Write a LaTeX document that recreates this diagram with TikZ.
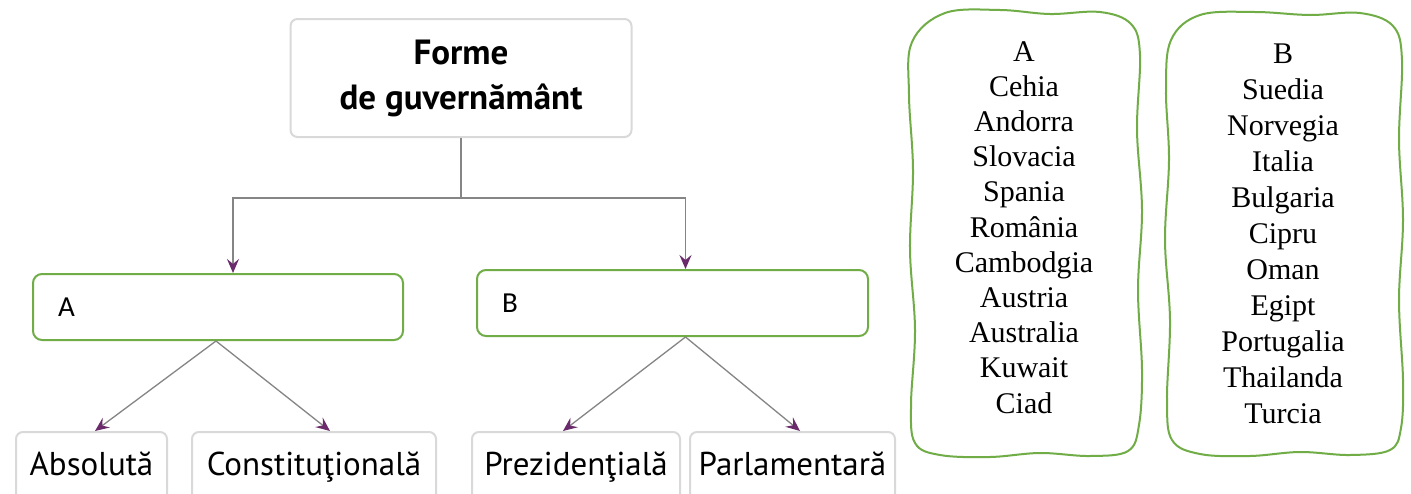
\documentclass[tikz,border=0pt]{standalone}
\usepackage{fontspec}
\setmainfont{Liberation Serif}
\newfontfamily\booksans{PT Sans}
\newfontfamily\boxsans{Carlito}
\usetikzlibrary{arrows.meta}
\definecolor{leafgreen}{HTML}{70AD47}
\definecolor{linegray}{HTML}{858585}
\definecolor{tipviolet}{HTML}{6B2A6B}
\definecolor{boxgray}{HTML}{D9D9D9}
\tikzset{
  % Set arrowhead
  >={Stealth[length=14pt, width=12pt, inset=5pt, color=tipviolet]},
  % Connector
  link/.style={draw=linegray, line width=1.6pt},
  % Textbook box
  tbox/.style={draw=boxgray, line width=2pt, rounded corners=7pt, fill=white,
    font=\booksans\fontsize{33}{40}\selectfont},
  % Green box
  gbox/.style={draw=leafgreen, line width=2pt, rounded corners=9pt, fill=white,
    minimum height=66pt, align=left, inner xsep=25pt,
    font=\boxsans\fontsize{29}{32}\selectfont},
  % Wavy list frame
  wavy/.style={draw=leafgreen, line width=2pt, smooth cycle, tension=0.6},
  % Country name
  country/.style={anchor=base, inner sep=0pt, font=\fontsize{30}{36}\selectfont},
}

\begin{document}
\begin{tikzpicture}[x=1pt, y=-1pt]
  \clip (0,0) rectangle (1411,493);
  \fill[white] (0,0) rectangle (1411,493);

  % Tree of the forms
  \node[tbox, font=\booksans\bfseries\fontsize{35}{45}\selectfont, align=center,
    minimum width=341pt, minimum height=118pt] (forms) at (461,78)
    {Forme\\de guvernământ};

  \node[gbox, text width=320pt] (monarchy) at (218,307) {A};
  \node[gbox, text width=341pt] (republic) at (672.5,303) {B};

  \node[tbox, minimum width=151pt, minimum height=70pt, text height=24pt,
    text depth=8pt] (absolute) at (91.5,467) {Absolută};
  \node[tbox, minimum width=244pt, minimum height=70pt, text height=24pt,
    text depth=8pt] (constitutional) at (314,467) {Constituţională};
  \node[tbox, minimum width=208pt, minimum height=70pt, text height=24pt,
    text depth=8pt] (presidential) at (576,467) {Prezidenţială};
  \node[tbox, minimum width=205pt, minimum height=70pt, text height=24pt,
    text depth=8pt] (parliamentary) at (792.5,467) {Parlamentară};

  \coordinate (split) at (461,198);
  \draw[link] (forms.south) -- (split);
  \draw[link, ->] (split) -| ([xshift=15pt]monarchy.north);
  \draw[link, ->] (split) -| ([xshift=13pt]republic.north);

  \draw[link, line width=1.3pt, ->] ([xshift=-2pt]monarchy.south)
    -- ([xshift=3.5pt]absolute.north);
  \draw[link, line width=1.3pt, ->] ([xshift=-2pt]monarchy.south)
    -- ([xshift=16pt]constitutional.north);
  \draw[link, line width=1.3pt, ->] ([xshift=13pt]republic.south)
    -- ([xshift=-13pt]presidential.north);
  \draw[link, line width=1.3pt, ->] ([xshift=13pt]republic.south)
    -- ([xshift=7.5pt]parliamentary.north);

  % Lists of countries
  \draw[wavy] plot coordinates {(945,13) (1000,10) (1050,14) (1100,12)
    (1131,24) (1140,55) (1137,130) (1142,210) (1138,290) (1142,370)
    (1139,425) (1128,451) (1090,456) (1040,453) (990,457) (940,455)
    (915,443) (911,405) (915,330) (910,250) (913,170) (909,95) (912,42)};
  \draw[wavy] plot coordinates {(1200,15) (1255,12) (1310,15) (1360,13)
    (1393,26) (1402,60) (1399,140) (1403,220) (1399,300) (1403,380)
    (1401,428) (1390,450) (1350,455) (1300,452) (1250,456) (1200,454)
    (1172,440) (1167,400) (1170,320) (1165,240) (1169,160) (1166,90)
    (1171,40)};

  \foreach \name [count=\i from 0] in {A, Cehia, Andorra, Slovacia, Spania,
    România, Cambodgia, Austria, Australia, Kuwait, Ciad}
    \node[country] (a\i) at (1024,{61+35.2*\i}) {\name};

  \foreach \name [count=\i from 0] in {B, Suedia, Norvegia, Italia, Bulgaria,
    Cipru, Oman, Egipt, Portugalia, Thailanda, Turcia}
    \node[country] (b\i) at (1283,{63+36*\i}) {\name};
\end{tikzpicture}
\end{document}
